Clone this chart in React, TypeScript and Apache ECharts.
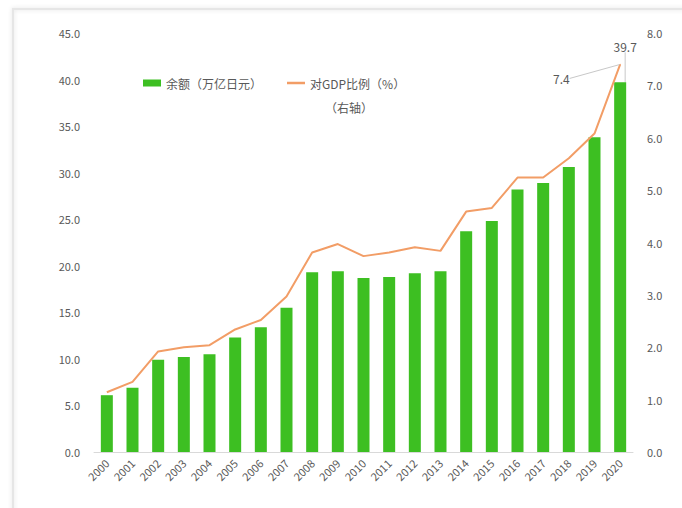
import React, { useEffect, useRef } from "react";
import * as echarts from "echarts";

const years = ["2000","2001","2002","2003","2004","2005","2006","2007","2008","2009","2010","2011","2012","2013","2014","2015","2016","2017","2018","2019","2020"];
const balance = [6.1, 6.9, 9.9, 10.2, 10.5, 12.3, 13.4, 15.5, 19.3, 19.4, 18.7, 18.8, 19.2, 19.4, 23.7, 24.8, 28.2, 28.9, 30.6, 33.8, 39.7];
const gdpRatio = [1.14, 1.34, 1.92, 2.0, 2.04, 2.34, 2.52, 2.97, 3.81, 3.97, 3.74, 3.81, 3.91, 3.84, 4.59, 4.66, 5.24, 5.24, 5.61, 6.08, 7.4];
const leftTicks = { min: 0, max: 45, interval: 5 };
const rightTicks = { min: 0, max: 8, interval: 1 };
const barName = "余额（万亿日元）";
const lineName = "对GDP比例（%）";
const lineNote = "（右轴）";

const FONT = "'Noto Sans CJK SC', 'Noto Sans', sans-serif";
const GRAY = "#595959";
const LINE_COLOR = "#f29d66";

export default function App() {
  const ref = useRef<HTMLDivElement>(null);
  useEffect(() => {
    if (!ref.current) return;
    const chart = echarts.init(ref.current, undefined, { renderer: "svg" });
    const last = years.length - 1;
    const legendText = { color: GRAY, fontSize: 12, fontFamily: FONT };
    chart.setOption({
      animation: false,
      backgroundColor: "#ffffff",
      textStyle: { fontFamily: FONT },
      graphic: [
        {
          type: "rect",
          shape: { x: 13, y: 9, width: 720, height: 560 },
          style: { fill: "none", stroke: "#e6e6e6", lineWidth: 2, shadowBlur: 4, shadowColor: "rgba(0,0,0,0.12)" },
          silent: true,
          z: -1,
        },
        {
          type: "text",
          left: 325,
          top: 101,
          style: { text: lineNote, fill: GRAY, fontSize: 12, fontFamily: FONT },
          silent: true,
        },
      ],
      legend: [
        {
          left: 138,
          top: 72,
          itemWidth: 18,
          itemHeight: 7,
          itemGap: 4,
          textStyle: legendText,
          data: [{ name: barName, icon: "rect" }],
        },
        {
          left: 282,
          top: 72,
          itemWidth: 18,
          itemHeight: 7,
          textStyle: legendText,
          data: [{ name: lineName, icon: "path://M0,0 L18,0 L18,2.5 L0,2.5 Z", itemStyle: { color: LINE_COLOR } }],
        },
      ],
      grid: { left: 94, right: 49, top: 33, bottom: 56 },
      xAxis: {
        type: "category",
        data: years,
        axisLine: { lineStyle: { color: "#d9d9d9" } },
        axisTick: { show: false },
        axisLabel: { rotate: 45, color: GRAY, fontSize: 11, margin: 9, interval: 0, fontFamily: FONT },
      },
      yAxis: [
        {
          type: "value",
          min: leftTicks.min,
          max: leftTicks.max,
          interval: leftTicks.interval,
          splitLine: { show: false },
          axisLine: { show: false },
          axisLabel: { color: GRAY, fontSize: 11, margin: 14, formatter: (v: number) => v.toFixed(1) },
        },
        {
          type: "value",
          min: rightTicks.min,
          max: rightTicks.max,
          interval: rightTicks.interval,
          splitLine: { show: false },
          axisLine: { show: false },
          axisLabel: { color: GRAY, fontSize: 11, margin: 14, formatter: (v: number) => v.toFixed(1) },
        },
      ],
      series: [
        {
          name: barName,
          type: "bar",
          barWidth: 12,
          itemStyle: { color: "#3dbf22" },
          data: balance.map((v, i) =>
            i === last
              ? {
                  value: v,
                  label: { show: true, position: "top", color: GRAY, fontSize: 12, formatter: (p: any) => p.value.toFixed(1) },
                  labelLine: { show: true, lineStyle: { color: "#c8c8c8", width: 1 } },
                }
              : v
          ),
          labelLayout: (p: any) => (p.dataIndex === last ? { dx: 5, dy: -25 } : {}),
        },
        {
          name: lineName,
          type: "line",
          yAxisIndex: 1,
          symbol: "none",
          lineStyle: { color: LINE_COLOR, width: 2 },
          itemStyle: { color: LINE_COLOR },
          z: 3,
          data: gdpRatio.map((v, i) =>
            i === last
              ? {
                  value: v,
                  symbol: "circle",
                  symbolSize: 1,
                  label: { show: true, position: "left", color: GRAY, fontSize: 12, formatter: (p: any) => Number(p.value).toFixed(1) },
                  labelLine: { show: true, lineStyle: { color: "#c8c8c8", width: 1 } },
                }
              : v
          ),
          labelLayout: (p: any) => (p.dataIndex === last ? { dx: -45, dy: 14 } : {}),
        },
      ],
    });
    return () => chart.dispose();
  }, []);
  return <div ref={ref} style={{ position: "absolute", left: 0, top: 0, width: 682, height: 508 }} />;
}
